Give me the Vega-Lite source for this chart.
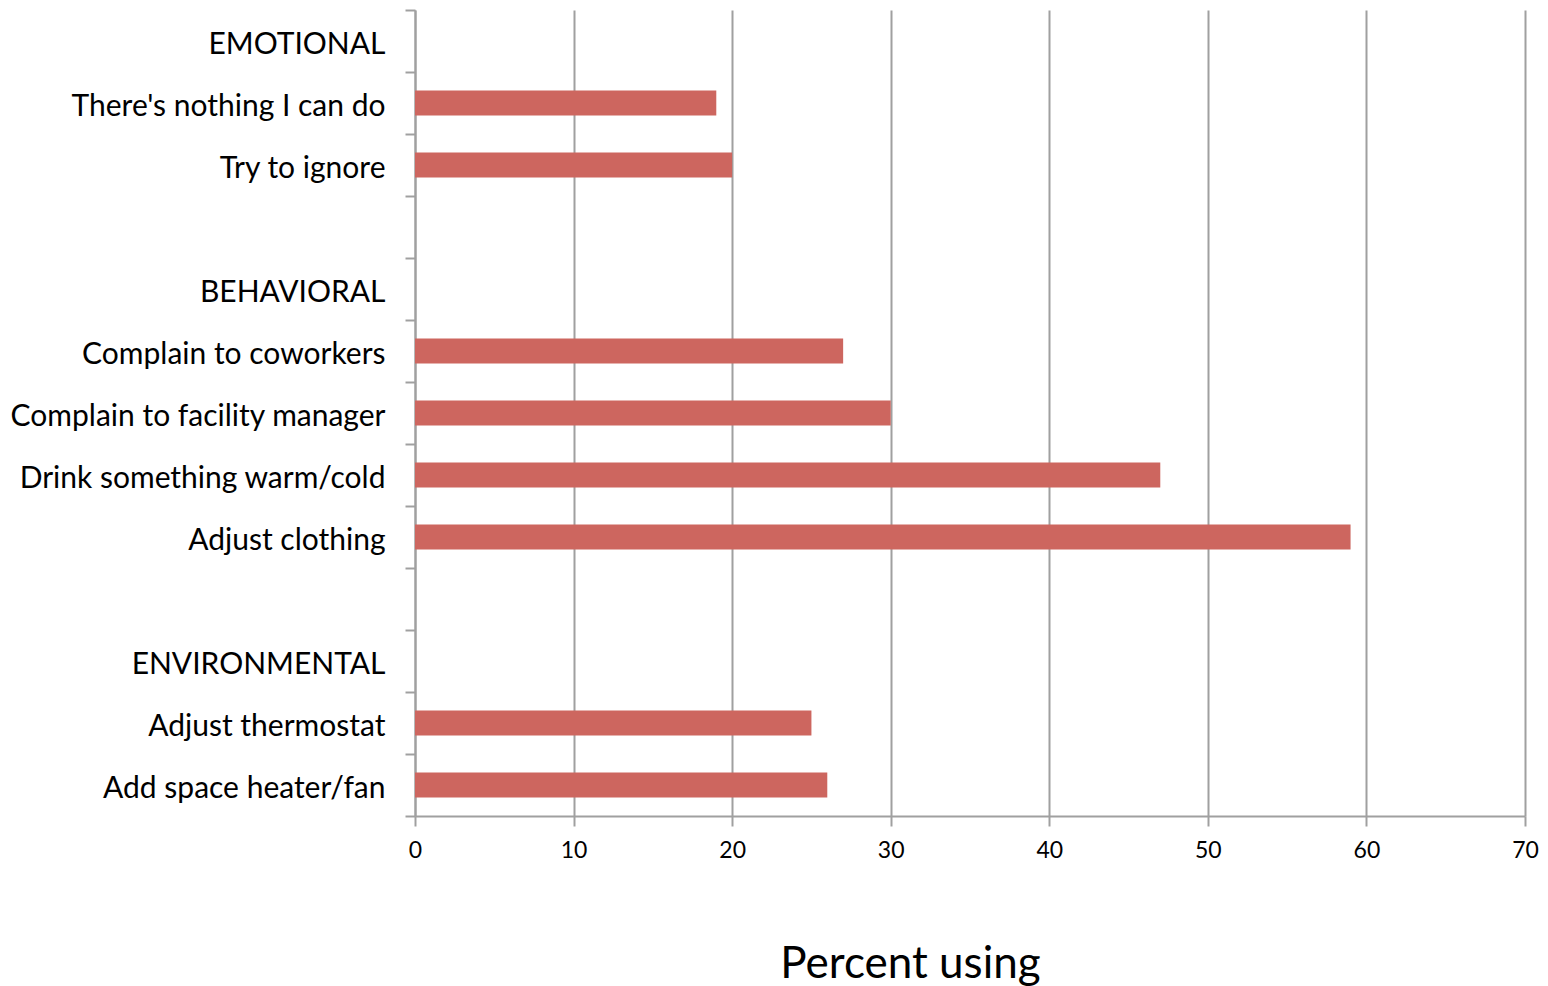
{
  "$schema": "https://vega.github.io/schema/vega-lite/v6.json",
  "width": 1110,
  "height": 806,
  "autosize": "none",
  "padding": {"left": 415, "top": 10, "right": 23, "bottom": 170},
  "background": "white",
  "config": {
    "view": {"stroke": null},
    "font": "Lato"
  },
  "data": {
    "values": [
      {"strategy": "EMOTIONAL", "percent": null},
      {"strategy": "There's nothing I can do", "percent": 19},
      {"strategy": "Try to ignore", "percent": 20},
      {"strategy": " ", "percent": null},
      {"strategy": "BEHAVIORAL", "percent": null},
      {"strategy": "Complain to coworkers", "percent": 27},
      {"strategy": "Complain to facility manager", "percent": 30},
      {"strategy": "Drink something warm/cold", "percent": 47},
      {"strategy": "Adjust clothing", "percent": 59},
      {"strategy": "  ", "percent": null},
      {"strategy": "ENVIRONMENTAL", "percent": null},
      {"strategy": "Adjust thermostat", "percent": 25},
      {"strategy": "Add space heater/fan", "percent": 26}
    ]
  },
  "mark": {"type": "bar", "color": "#cd665f", "height": {"band": 0.4}},
  "encoding": {
    "y": {
      "field": "strategy",
      "type": "nominal",
      "scale": {
        "domain": ["EMOTIONAL", "There's nothing I can do", "Try to ignore", " ", "BEHAVIORAL", "Complain to coworkers", "Complain to facility manager", "Drink something warm/cold", "Adjust clothing", "  ", "ENVIRONMENTAL", "Adjust thermostat", "Add space heater/fan"],
        "paddingInner": 0,
        "paddingOuter": 0
      },
      "axis": {
        "title": null,
        "grid": false,
        "tickBand": "extent",
        "domainColor": "#a0a0a0",
        "domainWidth": 2,
        "tickColor": "#a0a0a0",
        "tickWidth": 2,
        "tickSize": 10,
        "labelPadding": 20,
        "labelFontSize": 30,
        "labelOffset": 3,
        "labelColor": "#000000",
        "labelLimit": 500
      }
    },
    "x": {
      "field": "percent",
      "type": "quantitative",
      "scale": {"domain": [0, 70], "nice": false},
      "axis": {
        "values": [0, 10, 20, 30, 40, 50, 60, 70],
        "grid": true,
        "gridColor": "#a0a0a0",
        "gridWidth": 2,
        "domainColor": "#a0a0a0",
        "domainWidth": 2,
        "tickColor": "#a0a0a0",
        "tickWidth": 2,
        "tickSize": 10,
        "labelPadding": 13,
        "labelFlush": false,
        "labelFontSize": 23,
        "labelColor": "#000000",
        "title": "Percent using",
        "titleFontSize": 44,
        "titleFontWeight": "normal",
        "titleColor": "#000000",
        "titleX": 495,
        "titleY": 161,
        "titleAlign": "center",
        "titleBaseline": "alphabetic"
      }
    }
  }
}
